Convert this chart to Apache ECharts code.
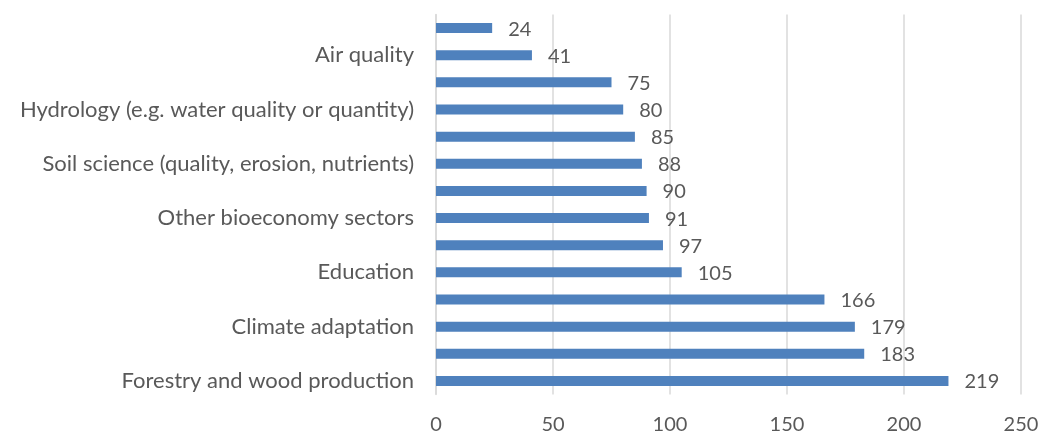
<!DOCTYPE html>
<html><head><meta charset="utf-8">
<script src="https://cdn.jsdelivr.net/npm/echarts@6/dist/echarts.min.js"></script>
<style>html,body{margin:0;padding:0;background:#fff}#c{width:1042px;height:436px}</style>
</head><body><div id="c"></div>
<script>
// bottom to top
const categories = ['Forestry and wood production', '', 'Climate adaptation', '', 'Education', '', 'Other bioeconomy sectors', '', 'Soil science (quality, erosion, nutrients)', '', 'Hydrology (e.g. water quality or quantity)', '', 'Air quality', ''];
const values = [219, 183, 179, 166, 105, 97, 91, 90, 88, 85, 80, 75, 41, 24];
const xTicks = [0, 50, 100, 150, 200, 250];

const font = 'Lato, "Open Sans", sans-serif';
const chart = echarts.init(document.getElementById('c'));
chart.setOption({
  animation: false,
  grid: {left: 436, right: 21, top: 14.5, bottom: 41.5, containLabel: false},
  xAxis: {
    type: 'value', min: xTicks[0], max: xTicks[xTicks.length - 1], interval: 50,
    axisLine: {show: false}, axisTick: {show: false},
    splitLine: {lineStyle: {color: '#d9d9d9', width: 1.5}},
    axisLabel: {color: '#595959', fontSize: 20, fontFamily: font, margin: 20}
  },
  yAxis: {
    type: 'category', data: categories,
    axisLine: {lineStyle: {color: '#d9d9d9', width: 1.5}}, axisTick: {show: false},
    axisLabel: {color: '#595959', fontSize: 22, fontFamily: font, margin: 22, interval: 0}
  },
  series: [{
    type: 'bar', data: values, barWidth: 10,
    itemStyle: {color: '#4f81bd'},
    label: {show: true, position: 'right', distance: 16, color: '#595959', fontSize: 20, fontFamily: font, offset: [0, 1]}
  }]
});
</script></body></html>
